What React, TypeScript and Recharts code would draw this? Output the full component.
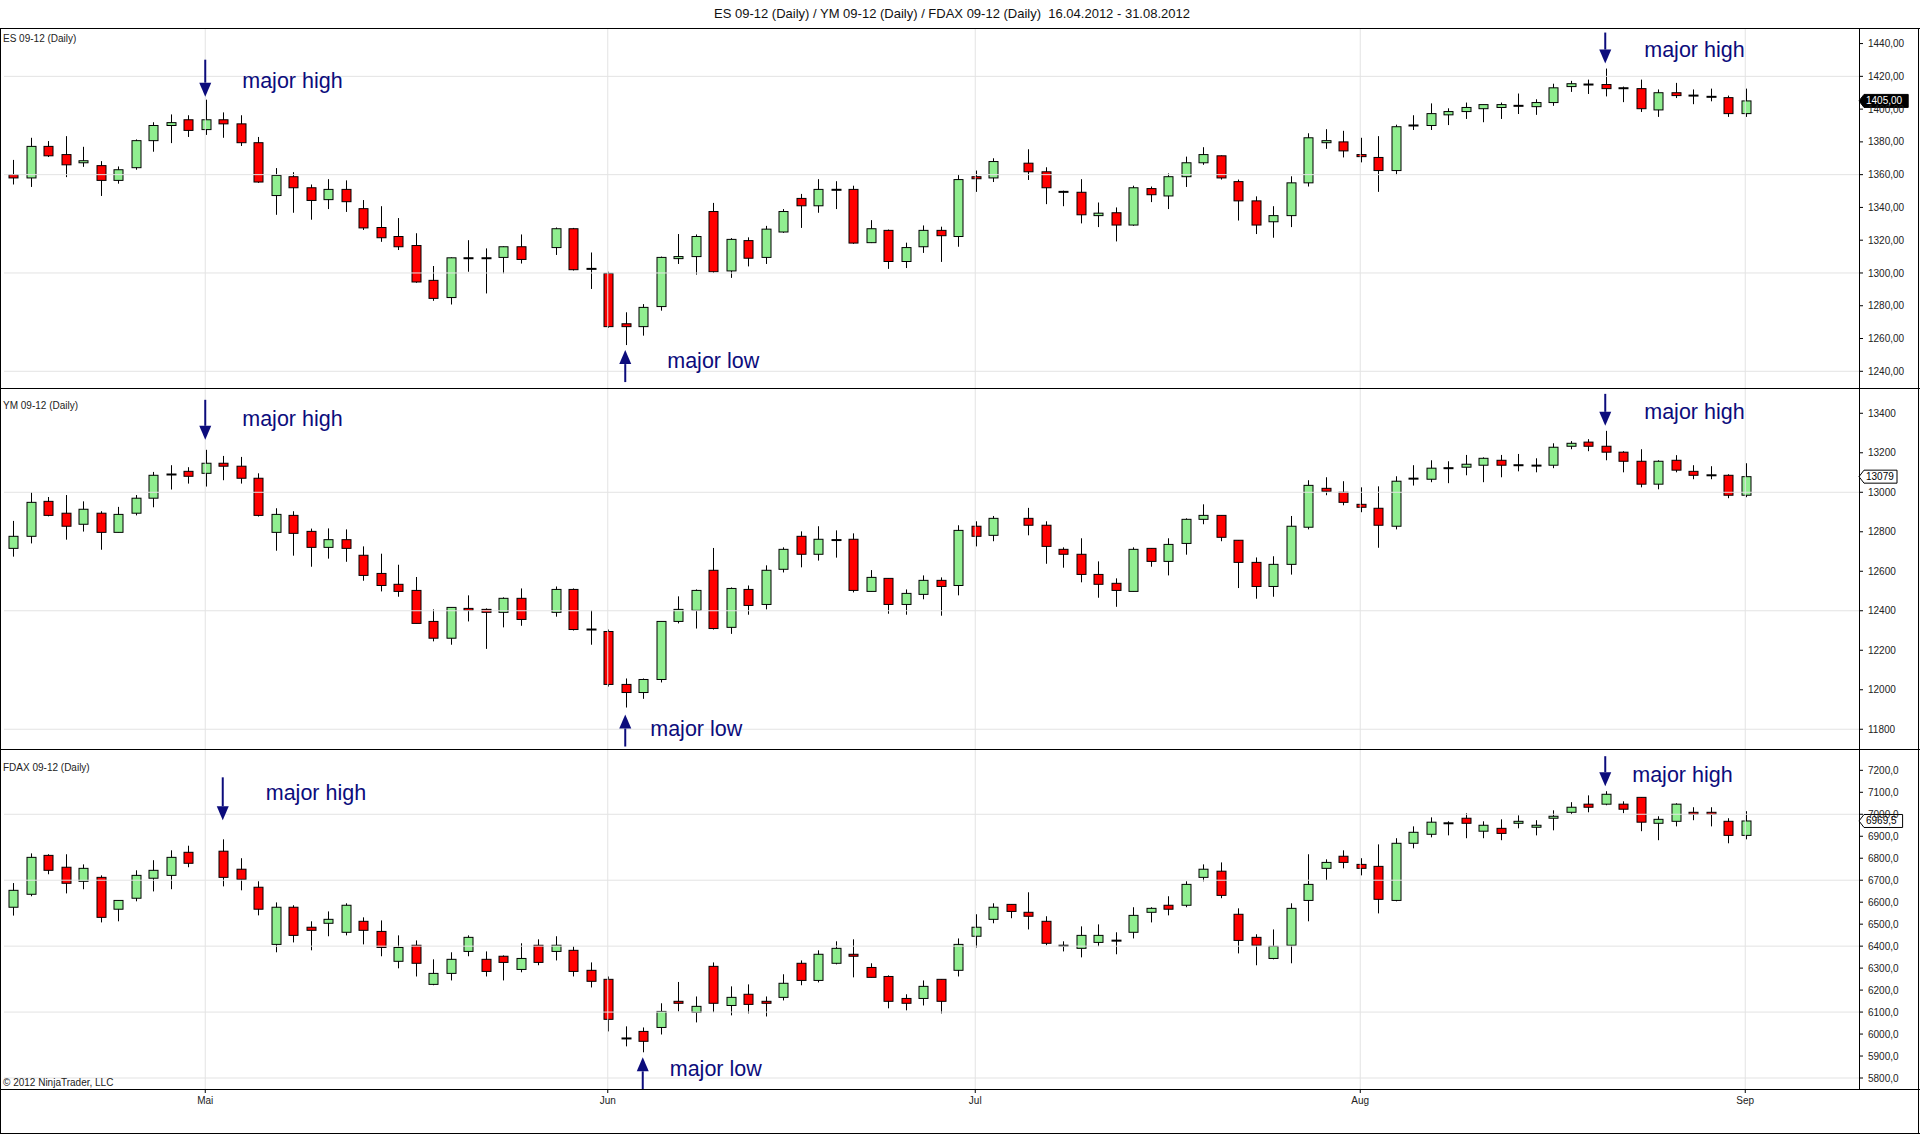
import React from 'react'
import {
  ComposedChart,
  Bar,
  XAxis,
  YAxis,
  ReferenceLine,
  ReferenceDot,
} from 'recharts'

// trading days shown on the shared time axis (union of CME and Eurex sessions)
const dates = [
  '16.04', '17.04', '18.04', '19.04', '20.04', '23.04', '24.04', '25.04', '26.04', '27.04', '30.04',
  '01.05', '02.05', '03.05', '04.05', '07.05', '08.05', '09.05', '10.05', '11.05', '14.05', '15.05',
  '16.05', '17.05', '18.05', '21.05', '22.05', '23.05', '24.05', '25.05', '28.05', '29.05', '30.05', '31.05',
  '01.06', '04.06', '05.06', '06.06', '07.06', '08.06', '11.06', '12.06', '13.06', '14.06', '15.06',
  '18.06', '19.06', '20.06', '21.06', '22.06', '25.06', '26.06', '27.06', '28.06', '29.06',
  '02.07', '03.07', '04.07', '05.07', '06.07', '09.07', '10.07', '11.07', '12.07', '13.07', '16.07',
  '17.07', '18.07', '19.07', '20.07', '23.07', '24.07', '25.07', '26.07', '27.07', '30.07', '31.07',
  '01.08', '02.08', '03.08', '06.08', '07.08', '08.08', '09.08', '10.08', '13.08', '14.08', '15.08',
  '16.08', '17.08', '20.08', '21.08', '22.08', '23.08', '24.08', '27.08', '28.08', '29.08', '30.08', '31.08',
]

const monthTicks = [11, 34, 55, 77, 99]
const monthNames = ['Mai', 'Jun', 'Jul', 'Aug', 'Sep']

// ES 09-12
const esOpen = [
  1360, 1358, 1377.25, 1372.25, 1367.25, 1365.5, 1356.5, 1364.25, 1380.75, 1390, 1393.5,
  1387.5, 1393.5, 1391, 1379.5, 1347.25, 1358.75, 1352, 1344.75, 1351, 1339.25, 1327.75,
  1322.25, 1316.75, 1295.5, 1285, 1309, 1309, 1309.5, 1316, null, 1315.5, 1327, 1302.5,
  1299.75, 1269, 1267.25, 1279.5, 1308.75, 1310, 1337.5, 1301.25, 1319.75, 1309.5, 1325,
  1345.5, 1341, 1350.75, 1351, 1318.5, 1326, 1307, 1316, 1326, 1322.25,
  1358.75, 1358, null, 1367, 1361.75, 1349.5, 1349.25, 1335, 1336.75, 1329.25, 1351.5,
  1347, 1358.75, 1367.25, 1371.5, 1355.75, 1344, 1331.25, 1335, 1355, 1379.5, 1380,
  1372.25, 1370.5, 1362.5, 1390, 1390, 1396.5, 1398.5, 1400.25, 1401, 1402, 1401.5,
  1404, 1413.75, 1415, 1415, 1412.75, 1412.5, 1399.5, 1410, 1408.25, 1407.5, 1407, 1397.25,
]
const esHigh = [
  1369, 1382.5, 1380.5, 1383.5, 1377, 1368.25, 1365, 1381.5, 1392, 1396.75, 1396.25,
  1405.75, 1398, 1396.25, 1383, 1364, 1361.5, 1354, 1357.25, 1356.5, 1344.5, 1340.75,
  1333.5, 1324.25, 1304.25, 1309.5, 1320, 1315, 1316.25, 1323.5, null, 1327.75, 1327.5, 1312.5,
  1300.75, 1276, 1281, 1310, 1323.75, 1323.5, 1342.75, 1321.25, 1321.75, 1328.75, 1339,
  1348.25, 1357.25, 1356, 1353.25, 1332.25, 1326.5, 1318.5, 1329, 1328.25, 1360,
  1362.5, 1370, null, 1375.5, 1364.5, 1350.25, 1357.25, 1343, 1340, 1353.25, 1352.75,
  1360.75, 1371, 1376.75, 1371.75, 1357, 1346.75, 1340.75, 1359, 1385.25, 1387.75, 1386.75,
  1382.5, 1383.5, 1390.5, 1396.25, 1403.5, 1400.5, 1404, 1402.75, 1404, 1409.5, 1406,
  1415.5, 1417.25, 1418, 1424.75, 1413.75, 1418, 1412, 1416, 1412, 1412.5, 1408.25, 1412.5,
]
const esLow = [
  1354, 1352.5, 1370.75, 1358.5, 1364.75, 1347, 1354.5, 1363, 1374, 1379.25, 1383,
  1384.25, 1382.5, 1377.5, 1355, 1335.5, 1336.75, 1332.5, 1339, 1337.25, 1326.25, 1319,
  1314, 1294, 1283, 1280.75, 1300.75, 1287.5, 1299.75, 1305.75, null, 1311, 1301.5, 1290.25,
  1266.5, 1256, 1261.75, 1277, 1305.5, 1299, 1300, 1297, 1304, 1305.5, 1324.5,
  1327.5, 1336.75, 1339, 1317.75, 1318.25, 1302.5, 1303, 1312.25, 1306.75, 1316,
  1349.5, 1355.5, null, 1356.75, 1342, 1340.75, 1330.25, 1328, 1319.25, 1328.75, 1343.25,
  1339, 1352.5, 1366, 1357, 1332, 1323.75, 1321.5, 1328, 1352.75, 1375.75, 1370.5,
  1367.5, 1349.5, 1359.75, 1387.25, 1387.25, 1390.25, 1394, 1392, 1394, 1397, 1396.5,
  1402, 1410.5, 1409.25, 1407.75, 1404.25, 1398.25, 1395.25, 1406.75, 1403, 1404.75, 1395.25, 1395.25,
]
const esClose = [
  1358, 1377.25, 1371.5, 1366, 1368.5, 1356.5, 1363, 1380.75, 1390, 1391.75, 1387,
  1393.5, 1391, 1379.5, 1355.5, 1359.5, 1352, 1344.25, 1351, 1343.5, 1327.5, 1321.5,
  1316, 1294.5, 1284.5, 1309.25, 1308.5, 1309.25, 1316, 1308.25, null, 1327, 1302, 1302.75,
  1267.25, 1267.25, 1279, 1309.5, 1310, 1322.25, 1300.75, 1320.5, 1309, 1326.75, 1337.5,
  1341, 1351, 1350.75, 1318.25, 1327, 1307, 1315.5, 1326, 1322.75, 1357,
  1357.5, 1368, null, 1361.75, 1352, 1349.5, 1335.5, 1336.5, 1329.25, 1352, 1347.75,
  1358.75, 1367.25, 1372.25, 1358, 1344, 1329.25, 1335, 1355, 1382.5, 1380.75, 1374.5,
  1371, 1362.5, 1389.25, 1390.25, 1397.25, 1398.5, 1401, 1402.75, 1402.75, 1402, 1404,
  1413, 1415.5, 1415, 1412.5, 1412.5, 1400.25, 1410, 1408.25, 1408.25, 1407.5, 1397.25, 1405,
]

// YM 09-12
const ymOpen = [
  12716, 12777, 12954, 12894, 12838, 12894, 12797, 12894, 12970, 13090, 13106,
  13096, 13147, 13132, 13071, 12797, 12883, 12802, 12721, 12760, 12681, 12589,
  12534, 12503, 12346, 12261, 12412, 12407, 12392, 12463, null, 12392, 12508, 12305,
  12295, 12027, 11986, 12052, 12346, 12402, 12605, 12316, 12508, 12432, 12610,
  12777, 12686, 12758, 12762, 12498, 12564, 12432, 12483, 12554, 12528,
  12828, 12782, null, 12868, 12833, 12711, 12686, 12584, 12539, 12498, 12716,
  12650, 12741, 12863, 12883, 12757, 12645, 12523, 12635, 12823, 13020, 13000,
  12939, 12919, 12828, 13069, 13066, 13122, 13127, 13137, 13162, 13137, 13135,
  13137, 13233, 13254, 13233, 13203, 13157, 13041, 13162, 13106, 13086, 13086, 12985,
]
const ymHigh = [
  12855, 13000, 12976, 12986, 12954, 12904, 12926, 12986, 13103, 13137, 13127,
  13215, 13184, 13179, 13096, 12919, 12904, 12816, 12817, 12812, 12726, 12689,
  12633, 12571, 12407, 12417, 12478, 12412, 12468, 12513, null, 12523, 12513, 12402,
  12305, 12057, 12057, 12346, 12473, 12508, 12718, 12518, 12528, 12630, 12721,
  12802, 12828, 12807, 12792, 12606, 12564, 12508, 12579, 12569, 12833,
  12853, 12880, null, 12921, 12853, 12721, 12767, 12650, 12564, 12721, 12716,
  12767, 12868, 12939, 12883, 12757, 12670, 12676, 12880, 13061, 13076, 13056,
  13025, 13030, 13081, 13137, 13162, 13157, 13189, 13177, 13189, 13194, 13172,
  13248, 13259, 13269, 13311, 13208, 13218, 13162, 13188, 13137, 13132, 13091, 13147,
]
const ymLow = [
  12674, 12741, 12878, 12760, 12801, 12709, 12797, 12883, 12924, 13014, 13044,
  13029, 13061, 13044, 12877, 12704, 12679, 12623, 12664, 12648, 12552, 12498,
  12471, 12336, 12245, 12228, 12346, 12207, 12316, 12324, null, 12370, 12300, 12228,
  12016, 11910, 11954, 12037, 12336, 12310, 12305, 12283, 12380, 12407, 12594,
  12620, 12654, 12669, 12493, 12498, 12385, 12380, 12458, 12375, 12478,
  12726, 12752, null, 12782, 12638, 12618, 12544, 12466, 12420, 12498, 12623,
  12579, 12684, 12838, 12752, 12515, 12461, 12471, 12583, 12812, 12985, 12934,
  12899, 12719, 12812, 13034, 13051, 13046, 13086, 13051, 13076, 13106, 13101,
  13122, 13218, 13208, 13162, 13101, 13025, 13015, 13101, 13066, 13066, 12970, 12975,
]
const ymClose = [
  12777, 12949, 12883, 12828, 12914, 12797, 12888, 12970, 13086, 13090, 13081,
  13147, 13132, 13071, 12883, 12888, 12792, 12721, 12760, 12716, 12579, 12528,
  12498, 12336, 12261, 12417, 12402, 12392, 12463, 12356, null, 12508, 12305, 12305,
  12027, 11986, 12052, 12346, 12407, 12503, 12310, 12513, 12427, 12605, 12711,
  12686, 12762, 12758, 12503, 12569, 12432, 12488, 12554, 12523, 12807,
  12777, 12868, null, 12833, 12726, 12686, 12584, 12534, 12503, 12711, 12650,
  12736, 12863, 12883, 12772, 12645, 12523, 12635, 12828, 13035, 13005, 12949,
  12924, 12833, 13056, 13069, 13122, 13122, 13142, 13172, 13137, 13137, 13133,
  13228, 13248, 13233, 13203, 13157, 13041, 13157, 13112, 13086, 13086, 12985, 13079,
]

// FDAX 09-12 (no session on 01.05)
const fdaxOpen = [
  6577, 6636, 6813, 6759, 6695, 6713, 6568, 6618, 6709, 6722, 6827,
  null, 6832, 6750, 6668, 6408, 6577, 6486, 6504, 6463, 6513, 6467,
  6331, 6404, 6226, 6276, 6376, 6340, 6354, 6294, 6404, 6376, 6381, 6290,
  6249, 5980, 6012, 6030, 6149, 6099, 6308, 6130, 6181, 6149, 6167,
  6322, 6244, 6322, 6363, 6303, 6262, 6162, 6162, 6249, 6290,
  6445, 6522, 6590, 6554, 6513, 6402, 6390, 6417, 6425, 6463, 6554,
  6586, 6586, 6713, 6741, 6545, 6440, 6344, 6404, 6608, 6754, 6809,
  6772, 6763, 6608, 6868, 6909, 6959, 6982, 6923, 6936, 6959, 6941,
  6982, 7009, 7046, 7046, 7046, 7077, 6959, 6968, 7009, 7009, 6968, 6904,
]
const fdaxHigh = [
  6687, 6822, 6818, 6818, 6772, 6722, 6608, 6745, 6791, 6836, 6857,
  null, 6886, 6800, 6695, 6599, 6586, 6513, 6558, 6595, 6531, 6517,
  6449, 6426, 6340, 6372, 6449, 6376, 6358, 6413, 6431, 6445, 6399, 6326,
  6262, 6035, 6030, 6140, 6237, 6171, 6326, 6217, 6226, 6171, 6272,
  6335, 6381, 6422, 6431, 6322, 6267, 6181, 6244, 6249, 6435,
  6545, 6595, 6590, 6645, 6536, 6422, 6490, 6499, 6463, 6577, 6577,
  6627, 6695, 6772, 6781, 6572, 6454, 6476, 6595, 6818, 6795, 6836,
  6800, 6863, 6891, 6945, 6986, 6968, 7005, 6968, 6977, 6995, 6973,
  7018, 7055, 7086, 7105, 7059, 7077, 6991, 7050, 7032, 7032, 6982, 7014,
]
const fdaxLow = [
  6539, 6627, 6727, 6640, 6659, 6508, 6513, 6604, 6649, 6659, 6759,
  null, 6672, 6654, 6540, 6372, 6417, 6381, 6445, 6449, 6408, 6354,
  6299, 6262, 6222, 6244, 6354, 6262, 6244, 6281, 6313, 6335, 6262, 6212,
  6012, 5944, 5917, 5998, 6103, 6053, 6099, 6085, 6094, 6080, 6153,
  6222, 6235, 6317, 6258, 6258, 6117, 6108, 6130, 6094, 6262,
  6394, 6504, 6527, 6476, 6404, 6376, 6349, 6399, 6363, 6435, 6508,
  6540, 6577, 6695, 6618, 6367, 6313, 6340, 6322, 6513, 6700, 6754,
  6722, 6549, 6604, 6845, 6895, 6904, 6891, 6891, 6882, 6936, 6904,
  6927, 7000, 7009, 7041, 7005, 6923, 6882, 6945, 6973, 6945, 6868, 6886,
]
const fdaxClose = [
  6654, 6804, 6745, 6686, 6754, 6531, 6608, 6722, 6745, 6804, 6777,
  null, 6713, 6704, 6568, 6577, 6449, 6472, 6522, 6586, 6472, 6394,
  6394, 6322, 6276, 6340, 6440, 6285, 6326, 6344, 6326, 6404, 6285, 6240,
  6067, 5980, 5967, 6103, 6140, 6126, 6140, 6167, 6135, 6140, 6231,
  6244, 6363, 6390, 6354, 6258, 6149, 6140, 6217, 6149, 6408,
  6486, 6577, 6558, 6536, 6413, 6402, 6449, 6449, 6425, 6540, 6572,
  6568, 6681, 6750, 6631, 6426, 6404, 6399, 6572, 6681, 6781, 6781,
  6754, 6613, 6868, 6918, 6964, 6959, 6959, 6950, 6913, 6968, 6950,
  6991, 7032, 7032, 7091, 7023, 6964, 6977, 7046, 7000, 7000, 6904, 6969.5,
]

const esTicks = [1240, 1260, 1280, 1300, 1320, 1340, 1360, 1380, 1400, 1420, 1440]
const ymTicks = [11800, 12000, 12200, 12400, 12600, 12800, 13000, 13200, 13400]
const fdaxTicks = [5800, 5900, 6000, 6100, 6200, 6300, 6400, 6500, 6600, 6700, 6800, 6900, 7000, 7100, 7200]

const esGrid = [1240, 1300, 1360, 1420]
const ymGrid = [11800, 12400, 13000]
const fdaxGrid = [5800, 6100, 6400, 6700, 7000]

const FONT = '"Liberation Sans", Arial, sans-serif'
const GREEN = '#90ee90'
const RED = '#ff0000'
const NAVY = '#0c0c7c'
const GRID = '#e3e3e3'
const EXTRA_SLOTS = 6

type Mark = { i: number; y: number; dir: 'up' | 'down'; gap: number; len: number; dx: number; dy: number; text: string }

const esMarks: Mark[] = [
  { i: 11, y: 1405.75, dir: 'down', gap: 3, len: 37, dx: 37, dy: -19, text: 'major high' },
  { i: 91, y: 1424.75, dir: 'down', gap: 5, len: 31, dx: 39, dy: -19, text: 'major high' },
  { i: 35, y: 1256, dir: 'up', gap: 5, len: 32, dx: 42, dy: 16, text: 'major low' },
]
const ymMarks: Mark[] = [
  { i: 11, y: 13215, dir: 'down', gap: 10, len: 40, dx: 37, dy: -31, text: 'major high' },
  { i: 91, y: 13311, dir: 'down', gap: 5, len: 32, dx: 39, dy: -19, text: 'major high' },
  { i: 35, y: 11910, dir: 'up', gap: 7, len: 32, dx: 25, dy: 21, text: 'major low' },
]
const fdaxMarks: Mark[] = [
  { i: 12, y: 6886, dir: 'down', gap: 19, len: 43, dx: 43, dy: -46, text: 'major high' },
  { i: 91, y: 7105, dir: 'down', gap: 5, len: 30, dx: 27, dy: -16, text: 'major high' },
  { i: 36, y: 5917, dir: 'up', gap: 5, len: 32, dx: 27, dy: 17, text: 'major low' },
]

function buildRows(o: (number | null)[], h: (number | null)[], l: (number | null)[], c: (number | null)[]) {
  const rows = []
  for (let i = 0; i < dates.length + EXTRA_SLOTS; i++) {
    const has = i < dates.length && o[i] != null
    rows.push({
      i,
      date: dates[i] ?? '',
      o: has ? o[i] : null,
      h: has ? h[i] : null,
      l: has ? l[i] : null,
      c: has ? c[i] : null,
      range: has ? [l[i], h[i]] : null,
    })
  }
  return rows
}

const esRows = buildRows(esOpen, esHigh, esLow, esClose)
const ymRows = buildRows(ymOpen, ymHigh, ymLow, ymClose)
const fdaxRows = buildRows(fdaxOpen, fdaxHigh, fdaxLow, fdaxClose)

function Candle(props: any) {
  const { x, y, width, height, payload } = props
  if (!payload || payload.o == null) return null
  const { o, h, l, c } = payload
  const top = Math.min(y, y + height)
  const span = Math.abs(height)
  const py = (v: number) => (h === l ? top : top + ((h - v) / (h - l)) * span)
  const cx = Math.round(x + width / 2) + 0.5
  const bw = 9
  const yo = py(o)
  const yc = py(c)
  const bodyTop = Math.min(yo, yc)
  const bodyH = Math.abs(yc - yo)
  return (
    <g>
      <line x1={cx} x2={cx} y1={py(h)} y2={py(l)} stroke="#000" strokeWidth={1} />
      {bodyH < 1.2 ? (
        <line x1={cx - bw / 2 - 0.5} x2={cx + bw / 2 + 0.5} y1={yo} y2={yo} stroke="#000" strokeWidth={2} />
      ) : (
        <rect
          x={cx - bw / 2}
          y={bodyTop}
          width={bw}
          height={bodyH}
          fill={c > o ? GREEN : RED}
          stroke="#000"
          strokeWidth={1}
        />
      )}
    </g>
  )
}

function Marker(props: any) {
  const { cx, cy, dir, gap, len, dx, dy, text } = props
  const tipY = dir === 'down' ? cy - gap : cy + gap
  const tailY = dir === 'down' ? tipY - len : tipY + len
  const head = 14
  const hw = 6
  const baseY = dir === 'down' ? tipY - head : tipY + head
  return (
    <g>
      <line x1={cx} x2={cx} y1={tailY} y2={baseY} stroke={NAVY} strokeWidth={2} />
      <polygon points={`${cx - hw},${baseY} ${cx + hw},${baseY} ${cx},${tipY}`} fill={NAVY} />
      <text
        x={cx + dx}
        y={cy + dy}
        dominantBaseline="central"
        fontFamily={FONT}
        fontSize={21.5}
        fill={NAVY}
      >
        {text}
      </text>
    </g>
  )
}

function PriceTag(props: any) {
  const { viewBox, text, dark } = props
  if (!viewBox) return null
  const x0 = viewBox.x + viewBox.width
  const y = viewBox.y
  const w = text.length * 5.6 + 5
  const hh = 6.5
  const d = `M${x0},${y} L${x0 + 5},${y - hh} L${x0 + 5 + w},${y - hh} L${x0 + 5 + w},${y + hh} L${x0 + 5},${y + hh} Z`
  return (
    <g>
      <path d={d} fill={dark ? '#000' : '#fff'} stroke="#000" strokeWidth={1} />
      <text
        x={x0 + 7}
        y={y}
        dominantBaseline="central"
        fontFamily={FONT}
        fontSize={10}
        fill={dark ? '#fff' : '#000'}
      >
        {text}
      </text>
    </g>
  )
}

type PanelProps = {
  rows: any[]
  domain: [number, number]
  ticks: number[]
  grid: number[]
  fmt: (v: number) => string
  last: number
  lastText: string
  dark?: boolean
  marks: Mark[]
  height: number
  showX?: boolean
}

function Panel({ rows, domain, ticks, grid, fmt, last, lastText, dark, marks, height, showX }: PanelProps) {
  return (
    <ComposedChart
      width={1920}
      height={height}
      data={rows}
      margin={{ top: 0, right: 3, bottom: 0, left: 4 }}
      barCategoryGap={0}
    >
      <XAxis
        dataKey="i"
        hide={!showX}
        ticks={monthTicks}
        interval={0}
        tickFormatter={(v: number) => monthNames[monthTicks.indexOf(v)] ?? ''}
        height={30}
        axisLine={false}
        tickLine={{ stroke: '#000' }}
        tickSize={4}
        tickMargin={4}
        tick={{ fontSize: 10, fill: '#222', fontFamily: FONT }}
      />
      <YAxis
        orientation="right"
        type="number"
        domain={domain}
        allowDataOverflow
        ticks={ticks}
        interval={0}
        width={58}
        axisLine={false}
        tickLine={{ stroke: '#000' }}
        tickSize={4}
        tickMargin={5}
        tick={{ fontSize: 10, fill: '#222', fontFamily: FONT }}
        tickFormatter={fmt}
      />
      {grid.map((v) => (
        <ReferenceLine key={'g' + v} y={v} stroke={GRID} strokeWidth={1} />
      ))}
      {monthTicks.map((i) => (
        <ReferenceLine key={'m' + i} x={i} stroke={GRID} strokeWidth={1} />
      ))}
      <Bar dataKey="range" isAnimationActive={false} shape={(p: any) => <Candle {...p} />} />
      <ReferenceLine
        y={last}
        stroke="none"
        label={(p: any) => <PriceTag {...p} text={lastText} dark={dark} />}
      />
      {marks.map((m) => (
        <ReferenceDot
          key={'k' + m.i}
          x={m.i}
          y={m.y}
          r={1}
          ifOverflow="visible"
          shape={(p: any) => <Marker {...p} {...m} />}
        />
      ))}
    </ComposedChart>
  )
}

const line = (style: React.CSSProperties): React.CSSProperties => ({
  position: 'absolute',
  background: '#000',
  pointerEvents: 'none',
  ...style,
})

const smallText: React.CSSProperties = {
  position: 'absolute',
  left: 3,
  fontFamily: FONT,
  fontSize: 10,
  color: '#222',
  lineHeight: '12px',
  whiteSpace: 'nowrap',
}

export default function App() {
  return (
    <div style={{ position: 'relative', width: 1920, height: 1135, background: '#fff', overflow: 'hidden' }}>
      <style>{'body{margin:0;background:#fff}'}</style>
      <div
        style={{
          position: 'absolute',
          top: 5,
          left: 0,
          width: 1904,
          textAlign: 'center',
          fontFamily: FONT,
          fontSize: 13,
          lineHeight: '17px',
          color: '#111',
        }}
      >
        ES 09-12 (Daily) / YM 09-12 (Daily) / FDAX 09-12 (Daily)&nbsp; 16.04.2012 - 31.08.2012
      </div>

      <div style={{ position: 'absolute', top: 28, left: 0 }}>
        <Panel
          rows={esRows}
          domain={[1229.8, 1449.5]}
          ticks={esTicks}
          grid={esGrid}
          fmt={(v) => v.toFixed(2).replace('.', ',')}
          last={1405}
          lastText="1405,00"
          dark
          marks={esMarks}
          height={360}
        />
      </div>
      <div style={{ position: 'absolute', top: 388, left: 0 }}>
        <Panel
          rows={ymRows}
          domain={[11700, 13528]}
          ticks={ymTicks}
          grid={ymGrid}
          fmt={(v) => String(v)}
          last={13079}
          lastText="13079"
          marks={ymMarks}
          height={361}
        />
      </div>
      <div style={{ position: 'absolute', top: 749, left: 0 }}>
        <Panel
          rows={fdaxRows}
          domain={[5750, 7297]}
          ticks={fdaxTicks}
          grid={fdaxGrid}
          fmt={(v) => v.toFixed(1).replace('.', ',')}
          last={6969.5}
          lastText="6969,5"
          marks={fdaxMarks}
          height={370}
          showX
        />
      </div>

      <div style={{ ...smallText, top: 33 }}>ES 09-12 (Daily)</div>
      <div style={{ ...smallText, top: 400 }}>YM 09-12 (Daily)</div>
      <div style={{ ...smallText, top: 762 }}>FDAX 09-12 (Daily)</div>
      <div style={{ ...smallText, top: 1077 }}>© 2012 NinjaTrader, LLC</div>

      <div style={line({ top: 28, left: 0, width: 1920, height: 1 })} />
      <div style={line({ top: 388, left: 0, width: 1920, height: 1 })} />
      <div style={line({ top: 749, left: 0, width: 1920, height: 1 })} />
      <div style={line({ top: 1089, left: 0, width: 1920, height: 1 })} />
      <div style={line({ top: 1133, left: 0, width: 1920, height: 1 })} />
      <div style={line({ top: 28, left: 0, width: 1, height: 1106 })} />
      <div style={line({ top: 28, left: 1918, width: 1, height: 1106 })} />
      <div style={line({ top: 28, left: 1859, width: 1, height: 1061 })} />
    </div>
  )
}
